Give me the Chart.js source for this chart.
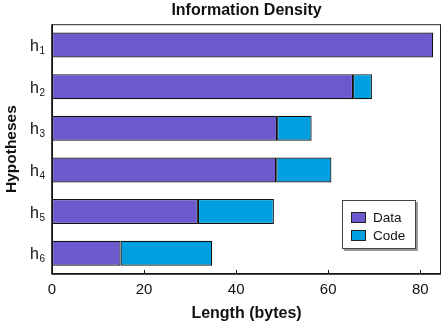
<!DOCTYPE html>
<html>
<head>
<meta charset="utf-8">
<script src="https://cdn.jsdelivr.net/npm/chart.js@4/dist/chart.umd.min.js"></script>
<style>
  html, body { margin: 0; padding: 0; background: #fff; }
  #chart { display: block; }
</style>
</head>
<body>
<canvas id="chart" width="443" height="325"></canvas>
<script>
const categories = ['h1', 'h2', 'h3', 'h4', 'h5', 'h6'];
const dataValues = [82.8, 65.4, 48.9, 48.7, 31.7, 14.9];
const codeValues = [0, 4.1, 7.5, 12.0, 16.5, 19.9];
const xTicks = [0, 20, 40, 60, 80];

const FONT = '"Liberation Sans", Arial, Helvetica, sans-serif';

// frame, inner tick marks, subscripted labels and the boxed legend
const extras = {
    id: 'extras',
    afterDraw(chart) {
        const ctx = chart.ctx;
        const a = chart.chartArea;
        const xs = chart.scales.x;
        const ys = chart.scales.y;
        ctx.save();

        // frame
        ctx.strokeStyle = '#222';
        ctx.lineWidth = 1;
        ctx.strokeRect(a.left + 0.5, a.top + 0.5, a.right - a.left - 1, a.bottom - a.top - 1);
        ctx.strokeStyle = '#111';
        ctx.lineWidth = 1.6;
        ctx.beginPath();
        ctx.moveTo(a.left, a.top);
        ctx.lineTo(a.left, a.bottom);
        ctx.lineTo(a.right, a.bottom);
        ctx.stroke();

        // tick marks pointing inward
        ctx.lineWidth = 1;
        xTicks.forEach(v => {
            if (v === 0) return;
            const px = Math.round(xs.getPixelForValue(v)) + 0.5;
            ctx.beginPath();
            ctx.moveTo(px, a.bottom);
            ctx.lineTo(px, a.bottom - 4);
            ctx.stroke();
        });

        // y labels with subscripts
        ctx.fillStyle = '#111';
        ctx.textBaseline = 'alphabetic';
        categories.forEach((lab, i) => {
            const cy = ys.getPixelForTick(i);
            const main = lab.slice(0, 1), sub = lab.slice(1);
            ctx.font = '10px ' + FONT;
            const sw = ctx.measureText(sub).width;
            ctx.font = '16px ' + FONT;
            const mw = ctx.measureText(main).width;
            const right = a.left - 7;
            ctx.textAlign = 'left';
            ctx.fillText(main, right - sw - mw - 0.5, cy + 6);
            ctx.font = '10px ' + FONT;
            ctx.fillText(sub, right - sw, cy + 9);
        });

        // legend box
        const lx = 342, ly = 200, lw = 74, lh = 49;
        ctx.fillStyle = '#9a9a9a';
        ctx.fillRect(lx + 2, ly + 2, lw, lh);
        ctx.fillStyle = '#fff';
        ctx.fillRect(lx, ly, lw, lh);
        ctx.strokeStyle = '#444';
        ctx.lineWidth = 1;
        ctx.strokeRect(lx + 0.5, ly + 0.5, lw - 1, lh - 1);
        chart.data.datasets.forEach((ds, i) => {
            const y = ly + 12 + i * 18;
            ctx.fillStyle = ds.backgroundColor;
            ctx.fillRect(lx + 9, y, 15, 11);
            ctx.strokeStyle = '#222';
            ctx.strokeRect(lx + 9.5, y + 0.5, 14, 10);
            ctx.fillStyle = '#111';
            ctx.font = '13.5px ' + FONT;
            ctx.textAlign = 'left';
            ctx.textBaseline = 'middle';
            ctx.fillText(ds.label, lx + 31, y + 6);
        });
        ctx.restore();
    }
};

new Chart(document.getElementById('chart'), {
    type: 'bar',
    data: {
        labels: categories,
        datasets: [
            {
                label: 'Data',
                data: dataValues,
                backgroundColor: '#6a5acd',
                borderColor: '#111',
                borderWidth: 1.2,
                borderSkipped: false
            },
            {
                label: 'Code',
                data: codeValues,
                backgroundColor: '#00a0e0',
                borderColor: '#111',
                borderWidth: 1.2,
                borderSkipped: false
            }
        ]
    },
    options: {
        indexAxis: 'y',
        responsive: false,
        animation: false,
        devicePixelRatio: 1,
        layout: { padding: { left: 0, right: 2, top: 0, bottom: 0 } },
        datasets: { bar: { barPercentage: 0.6, categoryPercentage: 1 } },
        plugins: {
            legend: { display: false },
            tooltip: { enabled: false },
            title: {
                display: true,
                fullSize: false,
                text: 'Information Density',
                color: '#111',
                font: { family: FONT, size: 16, weight: 'bold' },
                padding: { top: 1, bottom: 4 }
            }
        },
        scales: {
            x: {
                stacked: true,
                min: 0,
                max: 84.5,
                afterBuildTicks: s => { s.ticks = xTicks.map(v => ({ value: v })); },
                afterFit: s => { s.height = 51; },
                grid: { display: false, drawTicks: false },
                border: { display: false },
                ticks: {
                    color: '#111',
                    padding: 7,
                    maxRotation: 0,
                    font: { family: FONT, size: 15 }
                },
                title: {
                    display: true,
                    text: 'Length (bytes)',
                    color: '#111',
                    font: { family: FONT, size: 16, weight: 'bold' },
                    padding: { top: 4, bottom: 2 }
                }
            },
            y: {
                stacked: true,
                grid: { display: false },
                border: { display: false },
                ticks: { display: false },
                afterFit: s => { s.width = 52; },
                title: {
                    display: true,
                    text: 'Hypotheses',
                    color: '#111',
                    font: { family: FONT, size: 15.5, weight: 'bold' },
                    padding: { top: 2, bottom: 0 }
                }
            }
        }
    },
    plugins: [extras]
});
</script>
</body>
</html>
